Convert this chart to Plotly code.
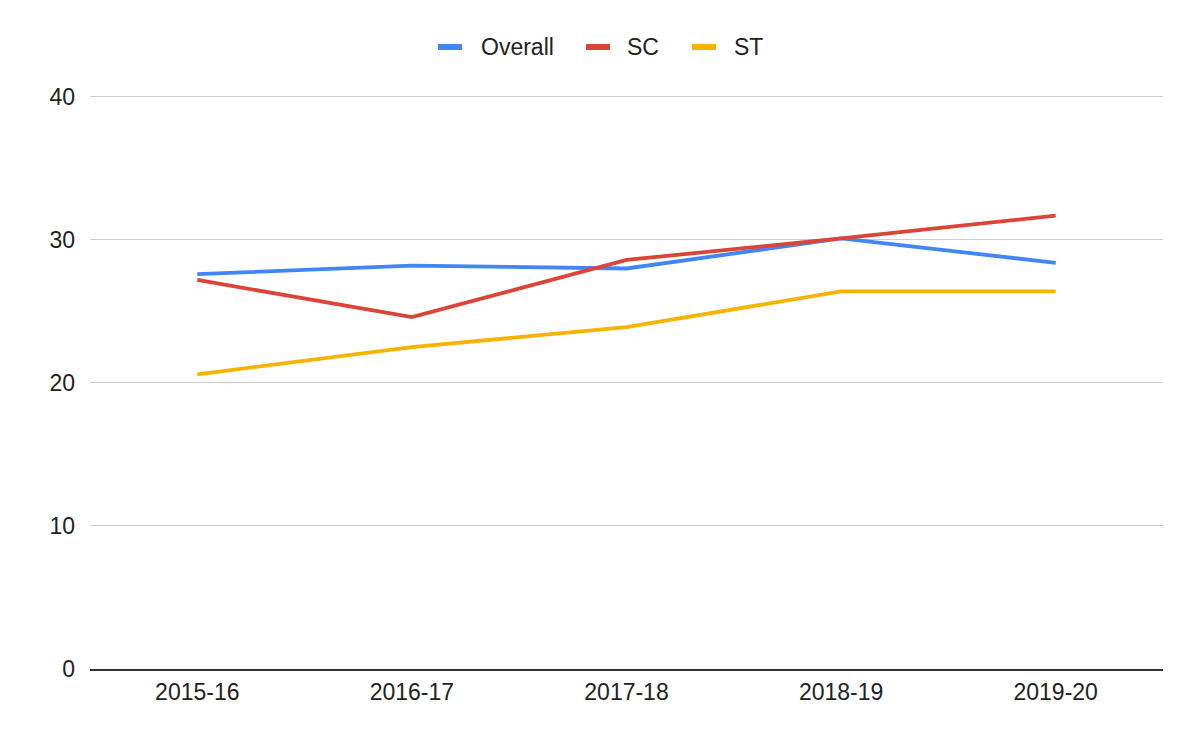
import plotly.graph_objects as go

years = ["2015-16", "2016-17", "2017-18", "2018-19", "2019-20"]
overall = [27.6, 28.2, 28.0, 30.1, 28.4]
sc = [27.2, 24.6, 28.6, 30.1, 31.7]
st = [20.6, 22.5, 23.9, 26.4, 26.4]

names = ["Overall", "SC", "ST"]
colors = ["#4285F4", "#DB4437", "#F4B400"]
series = [overall, sc, st]

W, H = 1200, 742
L, R, T, B = 82, 45, 86, 81
OFF = 8  # page body offset
PW = W - L - R
PH = H - T - B


def px(xp):
    return (xp - OFF - L) / PW


def py(yp):
    return (H - B + OFF - yp) / PH


fig = go.Figure()
for name, vals, col in zip(names, series, colors):
    fig.add_trace(go.Scatter(x=years, y=vals, name=name, mode="lines",
                             line=dict(color=col, width=3.8), showlegend=False))

# custom legend (short thick swatches like the reference)
sym_left = [438, 586, 692]
text_left = [479, 625, 732]
ly = 47
for name, col, sx, tx in zip(names, colors, sym_left, text_left):
    fig.add_shape(type="line", xref="paper", yref="paper",
                  x0=px(sx), x1=px(sx + 24), y0=py(ly), y1=py(ly),
                  line=dict(color=col, width=6))
    fig.add_annotation(xref="paper", yref="paper", x=px(tx), y=py(ly),
                       xanchor="left", yanchor="middle", text=name,
                       showarrow=False, font=dict(size=23, color="#222222"))

fig.update_layout(
    width=W, height=H,
    paper_bgcolor="white", plot_bgcolor="white",
    margin=dict(l=L, r=R, t=T, b=B),
    font=dict(family="Arial, Liberation Sans, sans-serif", size=23, color="#222222"),
    xaxis=dict(type="category", range=[-0.5, 4.5], showgrid=False,
               showline=True, linecolor="#333333", linewidth=1.5,
               ticks="", ticklabelstandoff=2,
               tickfont=dict(size=23, color="#222222")),
    yaxis=dict(range=[0, 40.2], tickvals=[0, 10, 20, 30, 40], showgrid=True,
               gridcolor="#cccccc", gridwidth=1, zeroline=False,
               ticks="", ticklabelstandoff=14,
               tickfont=dict(size=23, color="#222222")),
)

fig.write_html("out.html")
